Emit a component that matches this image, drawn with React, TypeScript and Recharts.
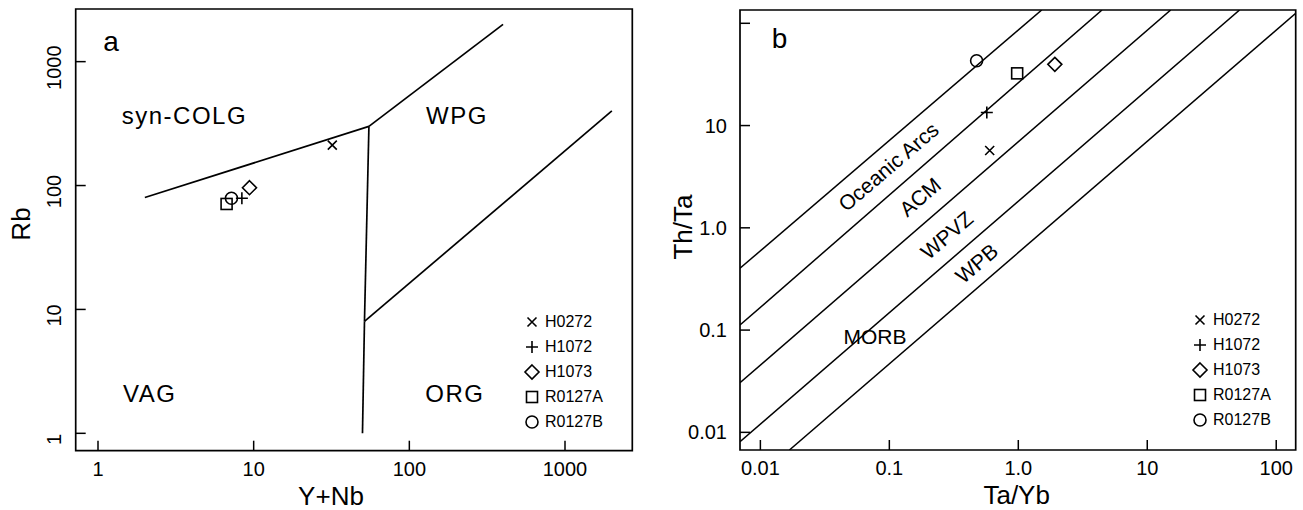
import React from 'react';
import { ScatterChart, Scatter, XAxis, YAxis, ReferenceLine, ReferenceArea, Legend } from 'recharts';

const FONT = '"Liberation Sans", Arial, Helvetica, sans-serif';
const INK = '#000';

// samples (same order in both panels)
const samples = ['H0272', 'H1072', 'H1073', 'R0127A', 'R0127B'];
const markers = ['cross', 'plus', 'diamond', 'square', 'circle'];

// panel a: Rb vs Y+Nb
const aYNb = [32, 8.4, 9.4, 6.7, 7.2];
const aRb = [212, 79, 96, 71, 79];
const aXDomain = [0.719, 2706];
const aYDomain = [0.724, 2660];
const aTicks = [1, 10, 100, 1000];
const aTickLabels = ['1', '10', '100', '1000'];
const aBoundaries = [
  [{ x: 2, y: 80 }, { x: 55, y: 300 }],
  [{ x: 55, y: 300 }, { x: 400, y: 2000 }],
  [{ x: 55, y: 300 }, { x: 51.5, y: 8 }],
  [{ x: 51.5, y: 8 }, { x: 50, y: 1 }],
  [{ x: 51.5, y: 8 }, { x: 2000, y: 400 }],
];
const aFields = [
  { text: 'a', x: 1.08, y: 1467 },
  { text: 'syn-COLG', x: 1.42, y: 366 },
  { text: 'WPG', x: 128, y: 367 },
  { text: 'VAG', x: 1.45, y: 2.1 },
  { text: 'ORG', x: 126.7, y: 2.1 },
];

// panel b: Th/Ta vs Ta/Yb
const bTaYb = [0.6, 0.57, 1.92, 0.98, 0.475];
const bThTa = [5.7, 13.4, 39.7, 32.4, 43];
const bXDomain = [0.00695, 141.6];
const bYDomain = [0.00672, 134.9];
const bXTicks = [0.01, 0.1, 1, 10, 100];
const bXTickLabels = ['0.01', '0.1', '1.0', '10', '100'];
const bYTicks = [0.01, 0.1, 1, 10, 100];
const bYTickLabels = ['0.01', '0.1', '1.0', '10', ''];
const bBoundaries = [
  [{ x: 0.00695, y: 0.402 }, { x: 1.52, y: 135 }],
  [{ x: 0.00695, y: 0.112 }, { x: 4.46, y: 135 }],
  [{ x: 0.00695, y: 0.0306 }, { x: 15.2, y: 135 }],
  [{ x: 0.00695, y: 0.0081 }, { x: 52, y: 135 }],
  [{ x: 0.0168, y: 0.00672 }, { x: 141.6, y: 125 }],
];
const bFields = [
  { text: 'b', x: 0.01225, y: 71.3 },
  { text: 'Oceanic Arcs', x: 0.0982, y: 3.96 },
  { text: 'ACM', x: 0.173, y: 2.01 },
  { text: 'WPVZ', x: 0.279, y: 0.851 },
  { text: 'WPB', x: 0.475, y: 0.45 },
  { text: 'MORB', x: 0.0774, y: 0.086 },
];
const slanted = ['Oceanic Arcs', 'ACM', 'WPVZ', 'WPB'];

const Marker = ({ type, cx, cy }: { type: string; cx: number; cy: number }) => {
  const s = { stroke: INK, strokeWidth: 1.6, fill: 'none' };
  switch (type) {
    case 'cross':
      return <path d={`M${cx - 4.5},${cy - 4.5}L${cx + 4.5},${cy + 4.5}M${cx - 4.5},${cy + 4.5}L${cx + 4.5},${cy - 4.5}`} {...s} />;
    case 'plus':
      return <path d={`M${cx - 6},${cy}L${cx + 6},${cy}M${cx},${cy - 6}L${cx},${cy + 6}`} {...s} />;
    case 'diamond':
      return <path d={`M${cx},${cy - 7}L${cx + 7},${cy}L${cx},${cy + 7}L${cx - 7},${cy}Z`} {...s} />;
    case 'square':
      return <rect x={cx - 5.5} y={cy - 5.5} width={11} height={11} {...s} />;
    default:
      return <circle cx={cx} cy={cy} r={6} {...s} />;
  }
};

const renderLegend = () => (
  <div style={{ fontFamily: FONT, fontSize: 16, color: INK, lineHeight: '25px' }}>
    {samples.map((s, i) => (
      <div key={s} style={{ display: 'flex', alignItems: 'center', height: 25 }}>
        <svg width={16} height={16} style={{ overflow: 'visible' }}>
          <Marker type={markers[i]} cx={8} cy={8} />
        </svg>
        <span style={{ marginLeft: 5 }}>{s}</span>
      </div>
    ))}
  </div>
);

const BottomTick = ({ x, y, payload, ticks, labels }: any) => {
  const label = labels[ticks.indexOf(payload.value)];
  return (
    <g>
      <line x1={x} y1={y} x2={x} y2={y - 10} stroke={INK} strokeWidth={1.5} />
      <text x={x} y={y + 18} textAnchor="middle" dominantBaseline="central" fontSize={20} fontFamily={FONT} fill={INK}>
        {label}
      </text>
    </g>
  );
};

const LeftTick = ({ x, y, payload, ticks, labels, rotated }: any) => {
  const label = labels[ticks.indexOf(payload.value)];
  return (
    <g>
      <line x1={x} y1={y} x2={x + 10} y2={y} stroke={INK} strokeWidth={1.5} />
      {rotated ? (
        <text x={x - 21.7} y={y + 6} textAnchor="middle" dominantBaseline="central" fontSize={20} fontFamily={FONT} fill={INK}
          transform={`rotate(-90 ${x - 21.7} ${y + 6})`}>
          {label}
        </text>
      ) : (
        <text x={x - 13} y={y} textAnchor="end" dominantBaseline="central" fontSize={20} fontFamily={FONT} fill={INK}>
          {label}
        </text>
      )}
    </g>
  );
};

const AxisTitle = ({ x, y, text, vertical }: any) => (
  <text x={x} y={y} textAnchor="middle" dominantBaseline="central" fontSize={26} fontFamily={FONT} fill={INK}
    transform={vertical ? `rotate(-90 ${x} ${y})` : undefined}>
    {text}
  </text>
);

const FieldLabel = (props: any) => {
  const { cx, cy, payload } = props;
  const t = payload.text;
  if (t === 'a' || t === 'b') {
    return <text x={cx} y={cy} dominantBaseline="central" fontSize={28} fontFamily={FONT} fill={INK}>{t}</text>;
  }
  if (slanted.includes(t)) {
    return (
      <text x={cx} y={cy} textAnchor="middle" dominantBaseline="central" fontSize={21} fontFamily={FONT} fill={INK}
        transform={`rotate(-40.5 ${cx} ${cy})`}>
        {t}
      </text>
    );
  }
  if (t === 'MORB') {
    return <text x={cx} y={cy} textAnchor="middle" dominantBaseline="central" fontSize={21} fontFamily={FONT} fill={INK}>{t}</text>;
  }
  return <text x={cx} y={cy} dominantBaseline="central" fontSize={24} letterSpacing={1.5} fontFamily={FONT} fill={INK}>{t}</text>;
};

const PanelA = () => (
  <ScatterChart width={660} height={510} margin={{ top: 9, right: 27.7, bottom: 19.3, left: 15.7 }}>
    <XAxis type="number" dataKey="x" scale="log" domain={aXDomain} allowDataOverflow ticks={aTicks} interval={0}
      height={40} axisLine={false} tickLine={false} tickSize={0} tickMargin={0}
      tick={(p: any) => <BottomTick {...p} ticks={aTicks} labels={aTickLabels} />}
      label={() => <AxisTitle x={331} y={496} text="Y+Nb" />} />
    <YAxis type="number" dataKey="y" scale="log" domain={aYDomain} allowDataOverflow ticks={aTicks} interval={0}
      width={60} axisLine={false} tickLine={false} tickSize={0} tickMargin={0}
      tick={(p: any) => <LeftTick {...p} ticks={aTicks} labels={aTickLabels} rotated />}
      label={() => <AxisTitle x={21} y={224} text="Rb" vertical />} />
    <ReferenceArea x1={aXDomain[0]} x2={aXDomain[1]} y1={aYDomain[0]} y2={aYDomain[1]} fill="none" fillOpacity={0}
      stroke={INK} strokeWidth={1.7} ifOverflow="visible" />
    {aBoundaries.map((seg, i) => (
      <ReferenceLine key={i} segment={seg} stroke={INK} strokeWidth={1.7} ifOverflow="visible" />
    ))}
    <Scatter data={aFields} shape={(p: any) => <FieldLabel {...p} />} isAnimationActive={false} legendType="none" />
    {samples.map((s, i) => (
      <Scatter key={s} name={s} data={[{ x: aYNb[i], y: aRb[i] }]} isAnimationActive={false}
        shape={(p: any) => <Marker type={markers[i]} cx={p.cx} cy={p.cy} />} />
    ))}
    <Legend layout="vertical" align="center" verticalAlign="middle" width={110} content={renderLegend}
      wrapperStyle={{ left: 524, top: 309 }} />
  </ScatterChart>
);

const PanelB = () => (
  <ScatterChart width={653} height={510} margin={{ top: 10, right: 7.3, bottom: 20, left: 30 }}>
    <XAxis type="number" dataKey="x" scale="log" domain={bXDomain} allowDataOverflow ticks={bXTicks} interval={0}
      height={40} axisLine={false} tickLine={false} tickSize={0} tickMargin={0}
      tick={(p: any) => <BottomTick {...p} ticks={bXTicks} labels={bXTickLabels} />}
      label={() => <AxisTitle x={366.7} y={495} text="Ta/Yb" />} />
    <YAxis type="number" dataKey="y" scale="log" domain={bYDomain} allowDataOverflow ticks={bYTicks} interval={0}
      width={60} axisLine={false} tickLine={false} tickSize={0} tickMargin={0}
      tick={(p: any) => <LeftTick {...p} ticks={bYTicks} labels={bYTickLabels} />}
      label={() => <AxisTitle x={33} y={227} text="Th/Ta" vertical />} />
    <ReferenceArea x1={bXDomain[0]} x2={bXDomain[1]} y1={bYDomain[0]} y2={bYDomain[1]} fill="none" fillOpacity={0}
      stroke={INK} strokeWidth={1.7} ifOverflow="visible" />
    {bBoundaries.map((seg, i) => (
      <ReferenceLine key={i} segment={seg} stroke={INK} strokeWidth={1.5} ifOverflow="hidden" />
    ))}
    <Scatter data={bFields} shape={(p: any) => <FieldLabel {...p} />} isAnimationActive={false} legendType="none" />
    {samples.map((s, i) => (
      <Scatter key={s} name={s} data={[{ x: bTaYb[i], y: bThTa[i] }]} isAnimationActive={false}
        shape={(p: any) => <Marker type={markers[i]} cx={p.cx} cy={p.cy} />} />
    ))}
    <Legend layout="vertical" align="center" verticalAlign="middle" width={110} content={renderLegend}
      wrapperStyle={{ left: 542, top: 307 }} />
  </ScatterChart>
);

export default function App() {
  return (
    <div style={{ position: 'absolute', left: 0, top: 0, width: 1303, height: 510, background: '#fff' }}>
      <div style={{ position: 'absolute', left: 0, top: 0 }}>
        <PanelA />
      </div>
      <div style={{ position: 'absolute', left: 650, top: 0 }}>
        <PanelB />
      </div>
    </div>
  );
}
